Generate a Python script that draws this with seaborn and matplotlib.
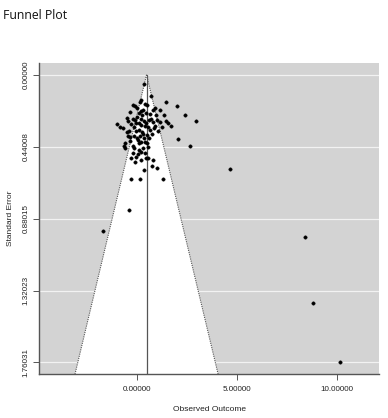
import matplotlib
matplotlib.use('Agg')
import matplotlib.pyplot as plt
import seaborn as sns
import numpy as np
import pandas as pd

# observed outcomes (effect sizes)
effect = [
    0.34, 0.70, 0.20, 0.14, 1.44, 1.98, -0.23, -0.13, 0.40, 0.50,
    0.87, 0.80, 0.30, 0.17, 0.07, 0.24, 0.44, 2.41, 1.34, 2.95,
    -1.00, -0.53, -0.47, -0.20, -0.10, 0.00, 0.10, 0.20, 0.57, 0.67,
    0.77, 1.00, 1.14, 1.44, 1.54, 1.68, -0.70, -0.50, -0.40, -0.17,
    -0.07, 0.07, 0.24, 0.40, 0.54, 0.64, 0.84, 0.90, -0.17, 0.00,
    0.14, 0.30, 0.47, 0.04, 0.20, 0.57, 0.50, 0.40, 0.10, 2.04,
    -0.60, -0.67, -0.63, -0.20, -0.17, 0.07, 0.27, 0.20, 2.65, -0.20,
    0.04, 0.40, -0.33, -0.07, 0.44, 0.54, 0.80, 0.74, 1.00, 0.34,
    4.65, -0.30, 0.14, 1.31, -0.40, -1.71, 8.40, 8.83, 10.17, 0.34,
    0.44, 0.19, -0.07, -0.32, 0.64, 0.94, -0.37, 1.24, 1.04, -0.47,
    0.74, 0.34, -0.37, 0.54, -0.12, 0.19, -0.87, -0.02, 1.14, -0.37,
]
# standard errors
std_err = [
    0.059, 0.128, 0.153, 0.165, 0.169, 0.188, 0.183, 0.189, 0.177, 0.182,
    0.202, 0.214, 0.214, 0.222, 0.235, 0.243, 0.235, 0.249, 0.249, 0.285,
    0.302, 0.263, 0.284, 0.269, 0.279, 0.259, 0.292, 0.271, 0.275, 0.271,
    0.287, 0.275, 0.287, 0.284, 0.296, 0.314, 0.328, 0.348, 0.345, 0.320,
    0.345, 0.336, 0.348, 0.312, 0.320, 0.336, 0.328, 0.316, 0.373, 0.385,
    0.373, 0.361, 0.369, 0.402, 0.410, 0.389, 0.418, 0.410, 0.418, 0.394,
    0.418, 0.438, 0.446, 0.434, 0.450, 0.458, 0.450, 0.475, 0.434, 0.479,
    0.483, 0.479, 0.507, 0.504, 0.507, 0.512, 0.524, 0.556, 0.568, 0.585,
    0.579, 0.636, 0.636, 0.636, 0.828, 0.956, 0.993, 1.398, 1.76031, 0.285,
    0.298, 0.310, 0.298, 0.304, 0.237, 0.249, 0.230, 0.322, 0.346, 0.372,
    0.365, 0.389, 0.408, 0.444, 0.536, 0.524, 0.322, 0.206, 0.218, 0.383,
]
estimate = 0.47
x_ticks = [0, 5, 10]
x_labels = ['0.00000', '5.00000', '10.00000']
y_ticks = [0.0, 0.44008, 0.88015, 1.32023, 1.76031]
y_labels = ['0.00000', '0.44008', '0.88015', '1.32023', '1.76031']

df = pd.DataFrame({'effect': effect, 'se': std_err})

sns.set_style('white')
plt.rcParams['font.family'] = ['Liberation Sans', 'DejaVu Sans']

fig = plt.figure(figsize=(3.88, 4.18), dpi=100)
ax = fig.add_axes([0.1018, 0.1053, 0.8750, 0.7433])

se_max = max(std_err)
pad = se_max * 0.04
y_lo, y_hi = -pad, se_max + pad
ax.set_xlim(-4.9, 12.13)
ax.set_ylim(y_hi, y_lo)
ax.set_facecolor('#d3d3d3')

# white horizontal lines at the y ticks
for t in y_ticks:
    ax.axhline(t, color='#f2f2f2', lw=0.9, zorder=1)

# funnel region
se_line = np.array([0, y_hi])
left = estimate - 1.96 * se_line
right = estimate + 1.96 * se_line
ax.fill([left[1], estimate, right[1]], [y_hi, 0, y_hi], color='white', zorder=2, lw=0)
ax.plot(left, se_line, color='#555555', lw=0.8, ls=(0, (1, 1)), zorder=3)
ax.plot(right, se_line, color='#555555', lw=0.8, ls=(0, (1, 1)), zorder=3)
ax.plot([estimate, estimate], [0, y_hi], color='#555555', lw=0.9, zorder=3)

sns.scatterplot(data=df, x='effect', y='se', ax=ax, color='black', s=6,
                edgecolor='black', linewidth=0.3, zorder=4, legend=False)

ax.set_xticks(x_ticks)
ax.set_xticklabels(x_labels, fontsize=5.8, color='#222222')
ax.set_yticks(y_ticks)
ax.set_yticklabels(y_labels, fontsize=5.8, color='#222222', rotation=90, va='center')
ax.tick_params(axis='y', direction='out', length=4, width=0.7, color='#555555', pad=3, left=True)
ax.tick_params(axis='x', direction='out', length=4, width=0.7, color='#555555', pad=5, bottom=True)
ax.set_xlabel('Observed Outcome', fontsize=6, color='#222222', labelpad=9)
ax.set_ylabel('Standard Error', fontsize=6, color='#222222', labelpad=6.5)

for s in ['top', 'right']:
    ax.spines[s].set_visible(False)
for s in ['left', 'bottom']:
    ax.spines[s].set_color('#555555')
    ax.spines[s].set_linewidth(1.0)

fig.text(0.008, 0.963, 'Funnel Plot', fontsize=8.8, family=['Open Sans', 'DejaVu Sans'],
         color='#111111', va='center', ha='left')

plt.savefig('out.png', dpi=100)
